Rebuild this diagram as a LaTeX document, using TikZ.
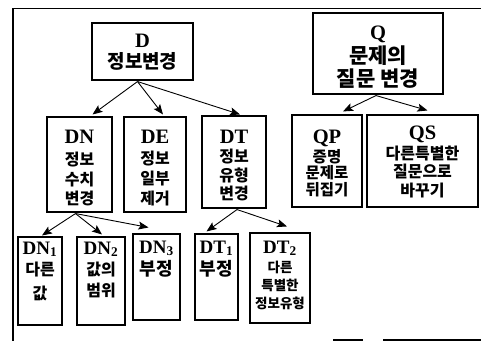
\documentclass[tikz,border=0pt]{standalone}
\usepackage{fontspec}
\usetikzlibrary{arrows.meta,calc}
\newfontfamily\kr{Noto Sans CJK KR}
\newfontfamily\lat{Liberation Serif}
\newcommand\mylab[2][20.5]{{\lat\bfseries\fontsize{#1}{#1}\selectfont #2}}
\newcommand\krf[2]{\kr\bfseries\fontsize{#1}{#2}\selectfont}
\begin{document}
\begin{tikzpicture}[x=1pt,y=-1pt,
  box/.style={draw,line width=1.1pt,inner sep=0pt},
  txt/.style={anchor=north,inner sep=0pt,align=center},
  arr/.style={line width=0.9pt,-{Stealth[length=10pt,width=8pt,inset=2pt]}},
  frame/.style={line width=1.8pt}]
\useasboundingbox (0,0) rectangle (481,341);
% frame
\coordinate (f1) at (481,8.5);
\coordinate (f2) at (13,8.5);
\coordinate (f3) at (13,341);
\draw[frame] (f1) -- (f2) -- (f3);
\coordinate (b1) at (333,340); \coordinate (b2) at (363,340);
\coordinate (b3) at (383,340); \coordinate (b4) at (481,340);
\draw[line width=1.5pt] (b1) -- (b2) (b3) -- (b4);
% boxes
\node[box,minimum width=101,minimum height=57] (D) at (142.5,51.5) {};
\node[box,minimum width=130,minimum height=81] (Q) at (378,53.5) {};
\node[box,minimum width=65,minimum height=95] (DN) at (79.5,164.5) {};
\node[box,minimum width=62,minimum height=95] (DE) at (155,164.5) {};
\node[box,minimum width=64,minimum height=92] (DT) at (234,162) {};
\node[box,minimum width=70,minimum height=92] (QP) at (327,161) {};
\node[box,minimum width=111,minimum height=92] (QS) at (422.5,161) {};
\node[box,minimum width=44,minimum height=88] (DN1) at (40,281) {};
\node[box,minimum width=48,minimum height=88] (DN2) at (101,281) {};
\node[box,minimum width=47,minimum height=86] (DN3) at (156.5,277) {};
\node[box,minimum width=43,minimum height=86] (DT1) at (216.5,277) {};
\node[box,minimum width=60,minimum height=90] (DT2) at (280,278) {};
% texts
\node[txt,font=\krf{19}{20}] (Dt) at ($(D.north)+(0,11)$) {\mylab{D}\\[1pt]정보변경};
\node[txt] (Ql) at ($(Q.north)+(0,13)$) {\mylab{Q}};
\node[txt,font=\krf{21}{23}] (Qt) at ($(Q.north)+(0,33)$) {문제의\\질문 변경};
\node[txt,font=\krf{16}{19.5}] (DNt) at ($(DN.north)+(0,13)$) {\mylab{DN}\\[3pt]정보\\수치\\변경};
\node[txt,font=\krf{16}{20}] (DEt) at ($(DE.north)+(0,13)$) {\mylab{DE}\\[1pt]정보\\일부\\제거};
\node[txt,font=\krf{16}{18.5}] (DTt) at ($(DT.north)+(0,14)$) {\mylab{DT}\\[1pt]정보\\유형\\변경};
\node[txt,font=\krf{15.5}{16.5}] (QPt) at ($(QP.north)+(0,15)$) {\mylab{QP}\\[2.5pt]증명\\문제로\\뒤집기};
\node[txt,font=\krf{16}{18.5}] (QSt) at ($(QS.north)+(0,11)$) {\mylab{QS}\\[1.5pt]다른특별한\\질문으로\\바꾸기};
\node[txt,font=\krf{16}{21}] (DN1t) at ($(DN1.north)+(0,5)$) {\mylab[19]{DN\textsubscript{1}}\\다른\\[3pt]값};
\node[txt,font=\krf{16}{21}] (DN2t) at ($(DN2.north)+(0,5)$) {\mylab[19]{DN\textsubscript{2}}\\값의\\범위};
\node[txt,font=\krf{18}{22}] (DN3t) at ($(DN3.north)+(0,7)$) {\mylab[19]{DN\textsubscript{3}}\\부정};
\node[txt,font=\krf{18}{22}] (DT1t) at ($(DT1.north)+(0,7)$) {\mylab[19]{DT\textsubscript{1}}\\부정};
\node[txt,font=\krf{13.5}{18}] (DT2t) at ($(DT2.north)+(0,8)$) {\mylab[19]{DT\textsubscript{2}}\\[1pt]다른\\특별한\\정보유형};
% arrows
\draw[arr] ($(D.south)+(-5,1)$) -- ($(DN.north)+(13,-2)$);
\draw[arr] ($(D.south)+(-5,1)$) -- ($(DE.north)+(8,-2)$);
\draw[arr] ($(D.south)+(-5,1)$) -- ($(DT.north)+(6,-1)$);
\draw[arr] ($(Q.south)+(-2,1)$) -- ($(QP.north)+(16,-3)$);
\draw[arr] ($(Q.south)+(-2,1)$) -- ($(QS.north)+(5,-4)$);
\draw[arr] ($(DN.south)+(-4,1)$) -- ($(DN1.north)+(2,-1)$);
\draw[arr] ($(DN.south)+(-4,1)$) -- ($(DN2.north)+(1,-2)$);
\draw[arr] ($(DN.south)+(-4,1)$) -- ($(DN3.north)+(-8,-6)$);
\draw[arr] ($(DT.south)+(3,1)$) -- ($(DT1.north)+(-10,-2)$);
\draw[arr] ($(DT.south)+(3,1)$) -- ($(DT2.north)+(7,-6)$);
\end{tikzpicture}
\end{document}
